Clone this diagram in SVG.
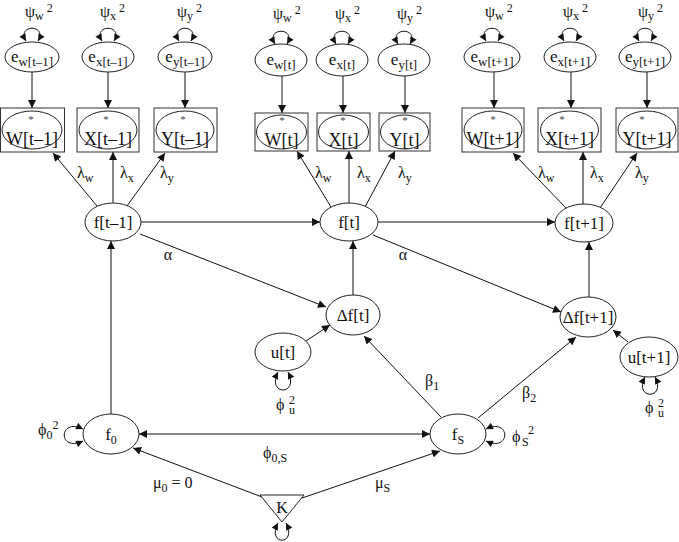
<svg xmlns="http://www.w3.org/2000/svg" width="679" height="542" viewBox="0 0 679 542" font-family="'Liberation Serif', 'Times New Roman', serif">
<style>
text{font-family:'Liberation Serif','DejaVu Serif','Times New Roman',serif;fill:#111}
.n{font-size:17px;text-anchor:middle}
.b{font-size:18px;text-anchor:middle}
.s{font-size:12px}
.lb{font-size:16px}
.st{font-size:11px;text-anchor:middle;fill:#444}
ellipse,rect,polygon.k{fill:#fff;stroke:#222;stroke-width:1}
rect{stroke:#333}
.c path,.c line{stroke:#111;stroke-width:1;fill:none}
</style>
<defs>
<marker id="ah" viewBox="0 0 10 10" refX="10" refY="5" markerWidth="10" markerHeight="8" markerUnits="userSpaceOnUse" orient="auto-start-reverse"><path d="M0,0 L10,5 L0,10 z" fill="#111"/></marker>
<marker id="la" viewBox="0 0 10 10" refX="10" refY="5" markerWidth="8" markerHeight="7" markerUnits="userSpaceOnUse" orient="auto-start-reverse"><path d="M0,0 L10,5 L0,10 z" fill="#111"/></marker>
</defs>
<rect x="0" y="0" width="679" height="542" style="fill:#fff;stroke:none"/>

<g class="c" id="connectors">
<line x1="32" y1="72" x2="32" y2="108" marker-end="url(#ah)"/>
<line x1="108" y1="72" x2="108" y2="108" marker-end="url(#ah)"/>
<line x1="185" y1="72" x2="185" y2="108" marker-end="url(#ah)"/>
<line x1="282" y1="76" x2="282" y2="113" marker-end="url(#ah)"/>
<line x1="343" y1="76" x2="343" y2="113" marker-end="url(#ah)"/>
<line x1="405" y1="76" x2="405" y2="113" marker-end="url(#ah)"/>
<line x1="494" y1="72" x2="494" y2="108" marker-end="url(#ah)"/>
<line x1="571" y1="72" x2="571" y2="108" marker-end="url(#ah)"/>
<line x1="647" y1="72" x2="647" y2="108" marker-end="url(#ah)"/>
<path d="M26,41 C16,24 48,24 38,41" marker-start="url(#la)" marker-end="url(#la)"/>
<path d="M102,41 C92,24 124,24 114,41" marker-start="url(#la)" marker-end="url(#la)"/>
<path d="M179,41 C169,24 201,24 191,41" marker-start="url(#la)" marker-end="url(#la)"/>
<path d="M275,44 C265,27 297,27 287,44" marker-start="url(#la)" marker-end="url(#la)"/>
<path d="M336,44 C326,27 358,27 348,44" marker-start="url(#la)" marker-end="url(#la)"/>
<path d="M398,44 C388,27 420,27 410,44" marker-start="url(#la)" marker-end="url(#la)"/>
<path d="M486,41 C476,24 508,24 498,41" marker-start="url(#la)" marker-end="url(#la)"/>
<path d="M564,41 C554,24 586,24 576,41" marker-start="url(#la)" marker-end="url(#la)"/>
<path d="M639,41 C629,24 661,24 651,41" marker-start="url(#la)" marker-end="url(#la)"/>
<line x1="97" y1="206" x2="53" y2="153" marker-end="url(#ah)"/>
<line x1="113" y1="203" x2="113" y2="152" marker-end="url(#ah)"/>
<line x1="127" y1="206" x2="165" y2="153" marker-end="url(#ah)"/>
<line x1="331" y1="207" x2="297" y2="151" marker-end="url(#ah)"/>
<line x1="349" y1="203" x2="349" y2="151" marker-end="url(#ah)"/>
<line x1="365" y1="207" x2="395" y2="151" marker-end="url(#ah)"/>
<line x1="566" y1="208" x2="513" y2="153" marker-end="url(#ah)"/>
<line x1="583" y1="204" x2="583" y2="152" marker-end="url(#ah)"/>
<line x1="600" y1="208" x2="637" y2="153" marker-end="url(#ah)"/>
<line x1="141" y1="222" x2="320" y2="222" marker-end="url(#ah)"/>
<line x1="378" y1="222" x2="555" y2="222" marker-end="url(#ah)"/>
<line x1="140" y1="234" x2="326" y2="307" marker-end="url(#ah)"/>
<line x1="373" y1="235" x2="561" y2="312" marker-end="url(#ah)"/>
<line x1="353" y1="295" x2="353" y2="241" marker-end="url(#ah)"/>
<line x1="589" y1="297" x2="589" y2="242" marker-end="url(#ah)"/>
<line x1="111" y1="414" x2="111" y2="241" marker-end="url(#ah)"/>
<line x1="306" y1="341" x2="330" y2="325" marker-end="url(#ah)"/>
<line x1="628" y1="342" x2="613" y2="330" marker-end="url(#ah)"/>
<path d="M278,372 C266,396 300,396 288,372" marker-start="url(#la)" marker-end="url(#la)"/>
<path d="M645,377 C633,400 667,400 655,377" marker-start="url(#la)" marker-end="url(#la)"/>
<path d="M83,429 C58,417 58,453 83,441" marker-start="url(#la)" marker-end="url(#la)"/>
<path d="M486,429 C511,417 511,453 486,441" marker-start="url(#la)" marker-end="url(#la)"/>
<line x1="139" y1="434" x2="430" y2="434" marker-start="url(#ah)" marker-end="url(#ah)"/>
<line x1="441" y1="417" x2="364" y2="336" marker-end="url(#ah)"/>
<line x1="478" y1="418" x2="576" y2="337" marker-end="url(#ah)"/>
<line x1="262" y1="497" x2="133" y2="448" marker-end="url(#ah)"/>
<line x1="302" y1="498" x2="440" y2="451" marker-end="url(#ah)"/>
<path d="M278,523 C266,546 298,546 286,523" marker-start="url(#la)" marker-end="url(#la)"/>
</g>

<g id="e_w_tm1"><ellipse cx="32" cy="57" rx="27" ry="15"/><text class="n" x="32" y="62" font-size="18">e<tspan dy="4" font-size="13">w[t–1]</tspan></text></g>
<g id="e_x_tm1"><ellipse cx="108" cy="57" rx="26" ry="15"/><text class="n" x="108" y="62" font-size="18">e<tspan dy="4" font-size="13">x[t–1]</tspan></text></g>
<g id="e_y_tm1"><ellipse cx="185" cy="57" rx="27" ry="15"/><text class="n" x="185" y="62" font-size="18">e<tspan dy="4" font-size="13">y[t–1]</tspan></text></g>
<g id="e_w_t"><ellipse cx="281" cy="60" rx="26" ry="16"/><text class="n" x="281" y="65" font-size="18">e<tspan dy="4" font-size="13">w[t]</tspan></text></g>
<g id="e_x_t"><ellipse cx="342" cy="60" rx="26" ry="16"/><text class="n" x="342" y="65" font-size="18">e<tspan dy="4" font-size="13">x[t]</tspan></text></g>
<g id="e_y_t"><ellipse cx="404" cy="60" rx="26" ry="16"/><text class="n" x="404" y="65" font-size="18">e<tspan dy="4" font-size="13">y[t]</tspan></text></g>
<g id="e_w_tp1"><ellipse cx="492" cy="57" rx="28" ry="15"/><text class="n" x="492" y="62" font-size="18">e<tspan dy="4" font-size="13">w[t+1]</tspan></text></g>
<g id="e_x_tp1"><ellipse cx="570" cy="57" rx="26" ry="15"/><text class="n" x="570" y="62" font-size="18">e<tspan dy="4" font-size="13">x[t+1]</tspan></text></g>
<g id="e_y_tp1"><ellipse cx="645" cy="57" rx="26" ry="15"/><text class="n" x="645" y="62" font-size="18">e<tspan dy="4" font-size="13">y[t+1]</tspan></text></g>

<g id="psi_labels">
<text class="lb" x="25" y="17">ψ<tspan class="s" dy="3">w</tspan><tspan class="s" dx="3" dy="-8">2</tspan></text>
<text class="lb" x="100" y="17">ψ<tspan class="s" dy="3">x</tspan><tspan class="s" dx="3" dy="-8">2</tspan></text>
<text class="lb" x="177" y="17">ψ<tspan class="s" dy="3">y</tspan><tspan class="s" dx="3" dy="-8">2</tspan></text>
<text class="lb" x="273" y="19">ψ<tspan class="s" dy="3">w</tspan><tspan class="s" dx="3" dy="-8">2</tspan></text>
<text class="lb" x="335" y="19">ψ<tspan class="s" dy="3">x</tspan><tspan class="s" dx="3" dy="-8">2</tspan></text>
<text class="lb" x="397" y="19">ψ<tspan class="s" dy="3">y</tspan><tspan class="s" dx="3" dy="-8">2</tspan></text>
<text class="lb" x="485" y="17">ψ<tspan class="s" dy="3">w</tspan><tspan class="s" dx="3" dy="-8">2</tspan></text>
<text class="lb" x="563" y="17">ψ<tspan class="s" dy="3">x</tspan><tspan class="s" dx="3" dy="-8">2</tspan></text>
<text class="lb" x="638" y="17">ψ<tspan class="s" dy="3">y</tspan><tspan class="s" dx="3" dy="-8">2</tspan></text>
</g>

<g id="W_tm1"><rect x="0.5" y="108" width="64" height="44"/><ellipse cx="32" cy="130" rx="30" ry="19"/><text class="st" x="31" y="123">*</text><text class="b" x="32" y="145">W[t–1]</text></g>
<g id="X_tm1"><rect x="77" y="108" width="62" height="44"/><ellipse cx="108" cy="130" rx="29" ry="19"/><text class="st" x="106" y="123">*</text><text class="b" x="108" y="145">X[t–1]</text></g>
<g id="Y_tm1"><rect x="154" y="108" width="63" height="44"/><ellipse cx="185" cy="130" rx="29" ry="19"/><text class="st" x="183" y="123">*</text><text class="b" x="185" y="145">Y[t–1]</text></g>
<g id="W_t"><rect x="255" y="113" width="53" height="38"/><ellipse cx="281.5" cy="132" rx="25" ry="17"/><text class="st" x="282" y="124">*</text><text class="b" x="281.5" y="146">W[t]</text></g>
<g id="X_t"><rect x="317" y="113" width="53" height="38"/><ellipse cx="343.5" cy="132" rx="25" ry="17"/><text class="st" x="343" y="124">*</text><text class="b" x="343.5" y="146">X[t]</text></g>
<g id="Y_t"><rect x="379" y="113" width="51" height="38"/><ellipse cx="404.5" cy="132" rx="24" ry="17"/><text class="st" x="405" y="124">*</text><text class="b" x="404.5" y="146">Y[t]</text></g>
<g id="W_tp1"><rect x="462" y="108" width="62" height="44"/><ellipse cx="493" cy="130" rx="29" ry="19"/><text class="st" x="493" y="123">*</text><text class="b" x="493" y="145">W[t+1]</text></g>
<g id="X_tp1"><rect x="538" y="108" width="63" height="44"/><ellipse cx="569.5" cy="130" rx="29" ry="19"/><text class="st" x="562" y="123">*</text><text class="b" x="569.5" y="145">X[t+1]</text></g>
<g id="Y_tp1"><rect x="616" y="108" width="62" height="44"/><ellipse cx="647" cy="130" rx="29" ry="19"/><text class="st" x="642" y="123">*</text><text class="b" x="647" y="145">Y[t+1]</text></g>

<g id="f_tm1"><ellipse cx="113" cy="222" rx="28" ry="19"/><text class="n" x="113" y="228">f[t–1]</text></g>
<g id="f_t"><ellipse cx="349" cy="222" rx="29" ry="19"/><text class="n" x="349" y="228">f[t]</text></g>
<g id="f_tp1"><ellipse cx="584" cy="223" rx="29" ry="19"/><text class="n" x="584" y="229">f[t+1]</text></g>
<g id="df_t"><ellipse cx="353" cy="315" rx="27" ry="20"/><text class="n" x="353" y="321">Δf[t]</text></g>
<g id="df_tp1"><ellipse cx="588" cy="317" rx="28" ry="20"/><text class="n" x="588" y="323">Δf[t+1]</text></g>
<g id="u_t"><ellipse cx="283" cy="352" rx="28" ry="19"/><text class="n" x="283" y="358">u[t]</text></g>
<g id="u_tp1"><ellipse cx="649" cy="357" rx="29" ry="20"/><text class="n" x="649" y="363">u[t+1]</text></g>
<g id="f0"><ellipse cx="111" cy="434" rx="28" ry="20"/><text class="n" x="111" y="440">f<tspan dy="4" font-size="12">0</tspan></text></g>
<g id="fS"><ellipse cx="458" cy="434" rx="28" ry="20"/><text class="n" x="458" y="440">f<tspan dy="4" font-size="12">S</tspan></text></g>
<g id="K"><polygon class="k" points="260,495 304,495 282,522"/><text x="282" y="513" font-size="16" text-anchor="middle">K</text></g>

<g id="labels">
<text class="lb" x="77" y="178">λ<tspan class="s" dy="4">w</tspan></text>
<text class="lb" x="120" y="178">λ<tspan class="s" dy="4">x</tspan></text>
<text class="lb" x="160" y="178">λ<tspan class="s" dy="4">y</tspan></text>
<text class="lb" x="315" y="178">λ<tspan class="s" dy="4">w</tspan></text>
<text class="lb" x="357" y="178">λ<tspan class="s" dy="4">x</tspan></text>
<text class="lb" x="398" y="178">λ<tspan class="s" dy="4">y</tspan></text>
<text class="lb" x="538" y="178">λ<tspan class="s" dy="4">w</tspan></text>
<text class="lb" x="590" y="178">λ<tspan class="s" dy="4">x</tspan></text>
<text class="lb" x="635" y="178">λ<tspan class="s" dy="4">y</tspan></text>
<text class="lb" x="168" y="260" text-anchor="middle">α</text>
<text class="lb" x="403" y="260" text-anchor="middle">α</text>
<text class="lb" x="425" y="386">β<tspan class="s" dy="4">1</tspan></text>
<text class="lb" x="522" y="398">β<tspan class="s" dy="4">2</tspan></text>
<text class="lb" x="276" y="410">ϕ<tspan class="s" x="289" dy="-6">2</tspan><tspan class="s" x="289" dy="10">u</tspan></text>
<text class="lb" x="645" y="413">ϕ<tspan class="s" x="658" dy="-6">2</tspan><tspan class="s" x="658" dy="10">u</tspan></text>
<text class="lb" x="38" y="435">ϕ<tspan class="s" dy="4">0</tspan><tspan class="s" dy="-10">2</tspan></text>
<text class="lb" x="512" y="442">ϕ<tspan class="s" x="522" dy="4">S</tspan><tspan class="s" x="528" dy="-12">2</tspan></text>
<text class="lb" x="263" y="458">ϕ<tspan class="s" dy="4">0,S</tspan></text>
<text class="lb" x="153" y="488">μ<tspan class="s" dy="4">0</tspan><tspan dy="-4"> = 0</tspan></text>
<text class="lb" x="375" y="488">μ<tspan class="s" dy="4">S</tspan></text>
</g>
</svg>
